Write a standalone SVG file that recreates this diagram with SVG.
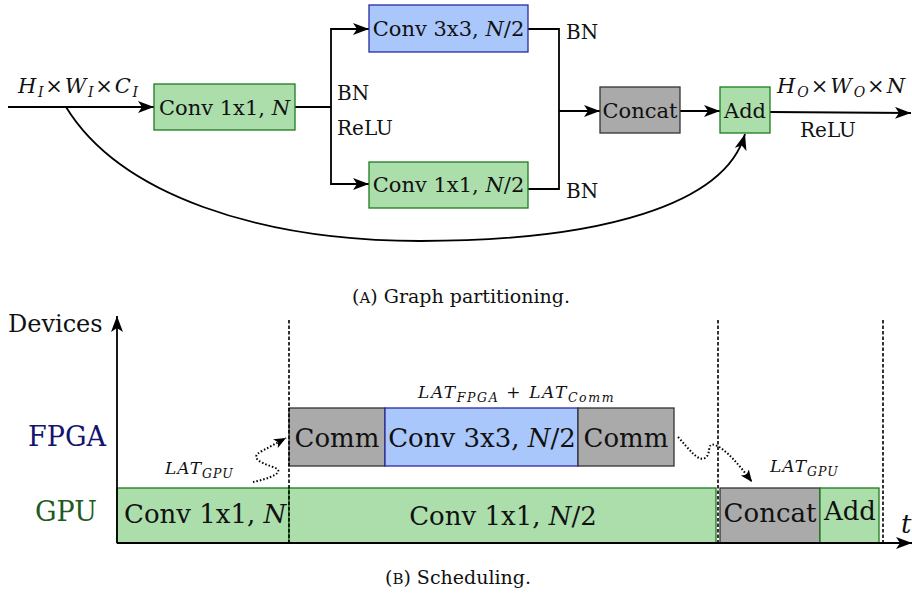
<svg xmlns="http://www.w3.org/2000/svg" width="912" height="597" viewBox="0 0 912 597">
<style>
text{font-family:"DejaVu Serif",serif;fill:#111}
.it{font-style:italic}
.green{fill:#abdeab;stroke:#1e7a1e;stroke-width:1.3}
.blue{fill:#a9c7fa;stroke:#2a2aa0;stroke-width:1.3}
.gray{fill:#aaaaaa;stroke:#333;stroke-width:1.3}
.ln{fill:none;stroke:#000;stroke-width:1.8}
.dash{fill:none;stroke:#000;stroke-width:1.6;stroke-dasharray:3.5 2}
.dot{fill:none;stroke:#000;stroke-width:2;stroke-dasharray:1.5 2}
.t1{font-size:21px}
.t2{font-size:20px}
.t3{font-size:26px}
.lat{font-size:17px;letter-spacing:1px}
.sub{font-size:12.5px}
.cap{font-size:19px}
</style>
<defs>
<marker id="ar" markerUnits="userSpaceOnUse" markerWidth="18" markerHeight="14" refX="16" refY="6" orient="auto" viewBox="0 0 18 14">
<path d="M0,0 L16,6 L0,12 L4,6 z" fill="#000"/>
</marker>
<marker id="ars" markerUnits="userSpaceOnUse" markerWidth="14" markerHeight="12" refX="12" refY="5" orient="auto" viewBox="0 0 14 12">
<path d="M0,0 L12,5 L0,10 L3,5 z" fill="#000"/>
</marker>
</defs>

<!-- (A) Graph partitioning -->
<g id="connectors-a">
<path class="ln" d="M8,107 H154" marker-end="url(#ar)"/>
<path class="ln" d="M295,107 H331"/>
<path class="ln" d="M331,107 V29 H369" marker-end="url(#ar)"/>
<path class="ln" d="M331,107 V184 H369" marker-end="url(#ar)"/>
<path class="ln" d="M528,29 H559 V189 H528"/>
<path class="ln" d="M559,111 H600" marker-end="url(#ar)"/>
<path class="ln" d="M680,111 H720" marker-end="url(#ar)"/>
<path class="ln" d="M770,112 L911,113" marker-end="url(#ar)"/>
<path class="ln" d="M66,107 C120,195 260,241 420,241 C600,241 725,205 745,134" marker-end="url(#ar)"/>
</g>
<g id="input-label">
<text x="18" y="93" font-size="21" textLength="120" lengthAdjust="spacing"><tspan class="it">H</tspan><tspan class="it" font-size="14" dy="4">I</tspan><tspan dy="-4">×</tspan><tspan class="it">W</tspan><tspan class="it" font-size="14" dy="4">I</tspan><tspan dy="-4">×</tspan><tspan class="it">C</tspan><tspan class="it" font-size="14" dy="4">I</tspan></text>
</g>
<g id="conv1x1-a">
<rect class="green" x="154" y="84" width="141" height="46"/>
<text class="t1" x="224.500" y="115" text-anchor="middle">Conv 1x1, <tspan class="it">N</tspan></text>
</g>
<g id="bn-relu">
<text class="t2" x="337" y="100">BN</text>
<text class="t2" x="337" y="135">ReLU</text>
</g>
<g id="conv3x3-a">
<rect class="blue" x="369" y="5" width="159" height="47"/>
<text class="t1" x="448.500" y="36" text-anchor="middle">Conv 3x3, <tspan class="it">N</tspan>/2</text>
</g>
<g id="conv1x1-half-a">
<rect class="green" x="369" y="162" width="159" height="46"/>
<text class="t1" x="448.500" y="192" text-anchor="middle">Conv 1x1, <tspan class="it">N</tspan>/2</text>
</g>
<g id="bn-labels">
<text class="t2" x="566" y="39">BN</text>
<text class="t2" x="566" y="198">BN</text>
</g>
<g id="concat-a">
<rect class="gray" x="600" y="87" width="80" height="46"/>
<text class="t1" x="640" y="118" text-anchor="middle">Concat</text>
</g>
<g id="add-a">
<rect class="green" x="720" y="87" width="50" height="46"/>
<text class="t1" x="745" y="118" text-anchor="middle">Add</text>
</g>
<g id="output-label">
<text x="777" y="93" font-size="21" textLength="128" lengthAdjust="spacing"><tspan class="it">H</tspan><tspan class="it" font-size="14" dy="4">O</tspan><tspan dy="-4">×</tspan><tspan class="it">W</tspan><tspan class="it" font-size="14" dy="4">O</tspan><tspan dy="-4">×</tspan><tspan class="it">N</tspan></text>
<text class="t2" x="800" y="137">ReLU</text>
</g>
<text class="cap" x="461" y="303" text-anchor="middle">(<tspan font-size="15">A</tspan>) Graph partitioning.</text>

<!-- (B) Scheduling -->
<g id="gpu-row">
<rect class="green" x="117" y="488" width="172" height="55"/>
<text class="t3" x="124" y="523">Conv 1x1, <tspan class="it">N</tspan></text>
<rect class="green" x="289" y="488" width="427" height="55"/>
<text class="t3" x="503" y="525" text-anchor="middle">Conv 1x1, <tspan class="it">N</tspan>/2</text>
</g>
<g id="concat-b">
<rect class="gray" x="720" y="488" width="100" height="55"/>
<text class="t3" x="770" y="522" text-anchor="middle">Concat</text>
</g>
<g id="add-b">
<rect class="green" x="820" y="488" width="59" height="55"/>
<text class="t3" x="850" y="520" text-anchor="middle">Add</text>
</g>
<g id="fpga-row">
<rect class="gray" x="289" y="408" width="96" height="58"/>
<text class="t3" x="337" y="447" text-anchor="middle">Comm</text>
<rect class="blue" x="385" y="408" width="193" height="58"/>
<text class="t3" x="482" y="447" text-anchor="middle">Conv 3x3, <tspan class="it">N</tspan>/2</text>
<rect class="gray" x="578" y="408" width="96" height="58"/>
<text class="t3" x="626" y="447" text-anchor="middle">Comm</text>
</g>
<g id="dashed-lines">
<path class="dash" d="M289,320 V543"/>
<path class="dash" d="M718,320 V543"/>
<path class="dash" d="M883,320 V543"/>
</g>
<g id="axes">
<path class="ln" d="M117,543 V316" stroke-width="2" marker-end="url(#ar)"/>
<path class="ln" d="M117,543 H912" stroke-width="2.5" marker-end="url(#ar)"/>
<text x="8" y="332" font-size="24">Devices</text>
<text x="28" y="446" font-size="27" style="fill:#141470">FPGA</text>
<text x="35" y="521" font-size="27" style="fill:#1f5a1f">GPU</text>
<text class="it" x="901" y="533" font-size="26">t</text>
</g>
<g id="transfers">
<path class="dot" d="M253,482 C268,479 288,472 273,467 C258,462 250,457 262,451 L286,438" marker-end="url(#ars)"/>
<path class="dot" d="M678,437 C690,450 698,462 705,458 C712,454 706,442 715,445 C726,449 740,466 752,482" marker-end="url(#ars)"/>
</g>
<g id="lat-labels">
<text class="it lat" x="165" y="474">LAT<tspan class="sub" dy="4">GPU</tspan></text>
<text class="it lat" x="770" y="472">LAT<tspan class="sub" dy="4">GPU</tspan></text>
<text class="it lat" x="418" y="398" style="letter-spacing:1.6px">LAT<tspan class="sub" dy="4">FPGA</tspan><tspan dy="-4" font-style="normal"> + </tspan>LAT<tspan class="sub" dy="4">Comm</tspan></text>
</g>
<text class="cap" x="458" y="584" text-anchor="middle">(<tspan font-size="15">B</tspan>) Scheduling.</text>
</svg>
